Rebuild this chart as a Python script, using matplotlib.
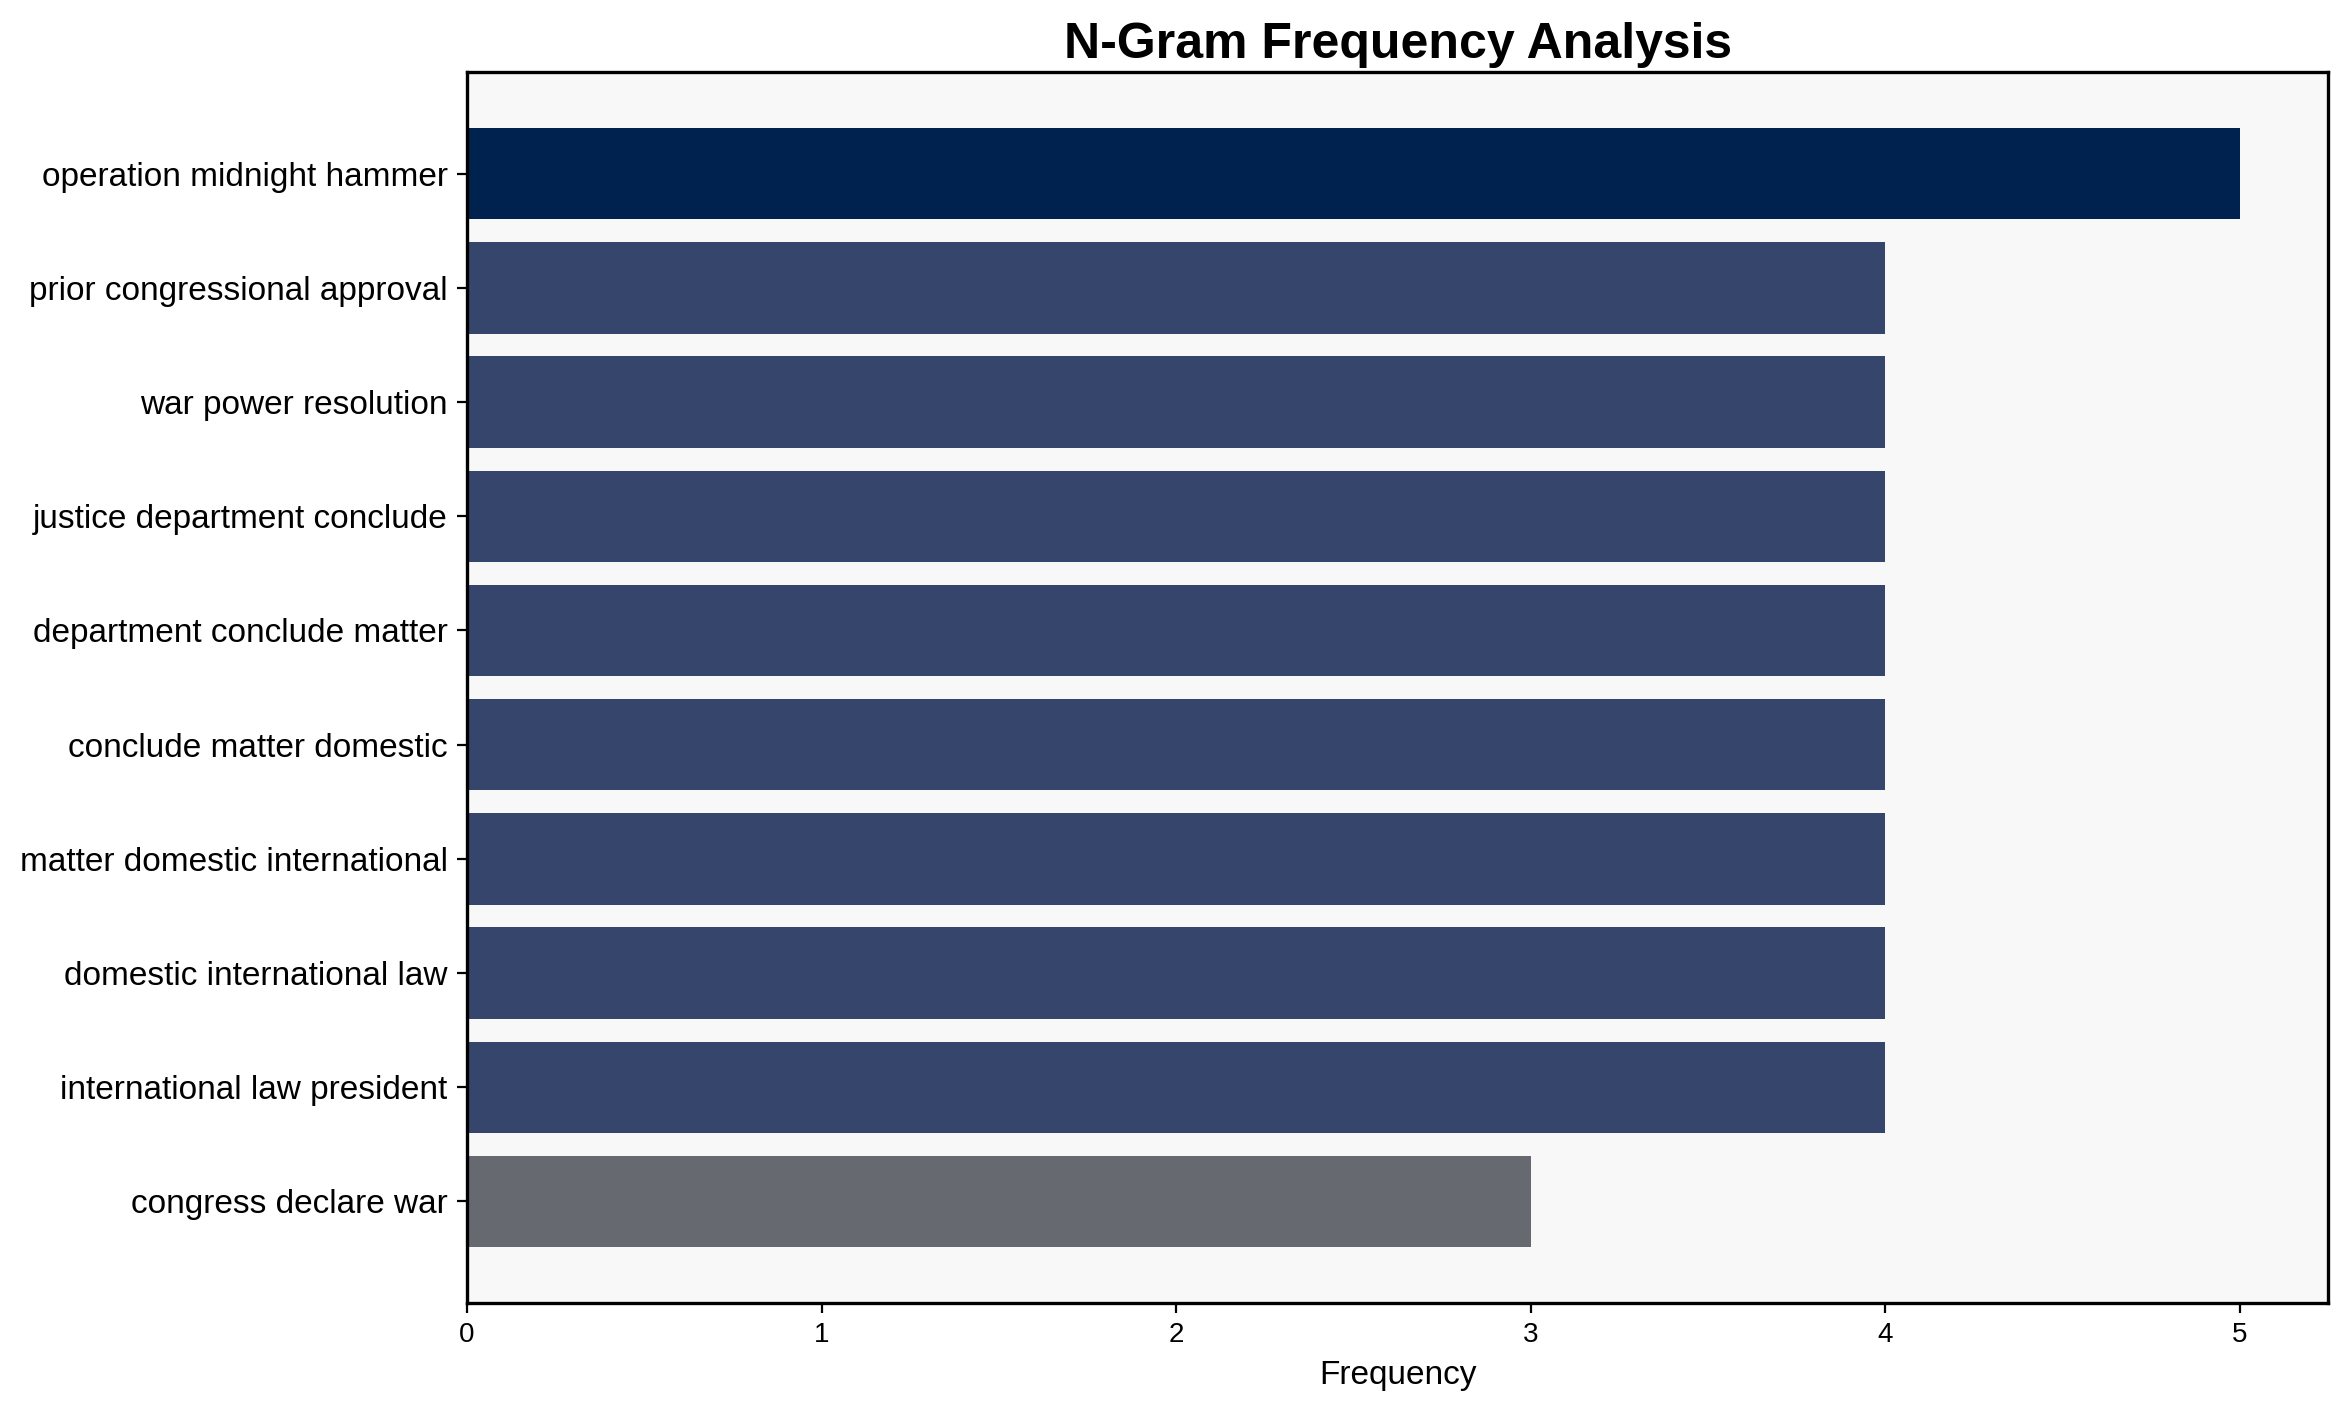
import matplotlib
matplotlib.use("Agg")
import matplotlib.pyplot as plt

ngrams = [
    "operation midnight hammer",
    "prior congressional approval",
    "war power resolution",
    "justice department conclude",
    "department conclude matter",
    "conclude matter domestic",
    "matter domestic international",
    "domestic international law",
    "international law president",
    "congress declare war",
]
counts = [5, 4, 4, 4, 4, 4, 4, 4, 4, 3]
color_by_count = {5: "#00224e", 4: "#35456c", 3: "#666970"}

plt.rcParams['font.family'] = ['Liberation Sans', 'DejaVu Sans']

fig = plt.figure(figsize=(2347 / 200, 1414 / 200), dpi=200)
ax = fig.add_axes([0.199, 0.0785, 0.793, 0.8705])
ax.set_facecolor("#f8f8f8")

pos = list(range(len(ngrams)))
ax.barh(pos, counts, height=0.8, color=[color_by_count[c] for c in counts])
ax.set_yticks(pos)
ax.set_yticklabels(ngrams, fontsize=12)
ax.invert_yaxis()
ax.tick_params(axis='x', labelsize=10)
ax.set_xlabel("Frequency", fontsize=12)
ax.set_title("N-Gram Frequency Analysis", fontsize=18, fontweight='bold', pad=5)
for s in ax.spines.values():
    s.set_linewidth(1.2)

fig.savefig("out.png", dpi=200)
